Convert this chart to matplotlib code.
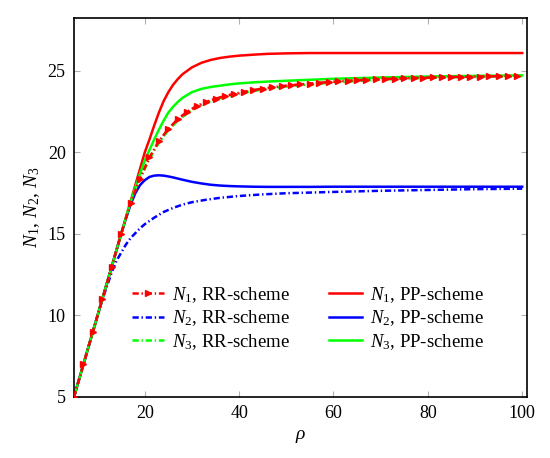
import numpy as np
import matplotlib
matplotlib.use('Agg')
import matplotlib.pyplot as plt

plt.rcParams['font.family'] = ['Liberation Serif', 'DejaVu Serif']
plt.rcParams['mathtext.fontset'] = 'custom'
plt.rcParams['mathtext.rm'] = 'Liberation Serif'
plt.rcParams['mathtext.it'] = 'Liberation Serif:italic'
plt.rcParams['lines.scale_dashes'] = False

# RR-scheme, N1 (marked points)
rho_rr = list(range(5, 101, 2))
n1_rr = [5, 7, 9, 11, 13, 15, 16.9, 18.4, 19.7, 20.7, 21.45, 22.05, 22.5, 22.85,
         23.1, 23.3, 23.47, 23.6, 23.72, 23.83, 23.92, 24.0, 24.07, 24.13, 24.18,
         24.23, 24.28, 24.32, 24.36, 24.4, 24.43, 24.46, 24.49, 24.51, 24.53, 24.55,
         24.57, 24.59, 24.6, 24.62, 24.63, 24.64, 24.65, 24.66, 24.67, 24.68, 24.69, 24.7]

# RR-scheme, N2
rho_n2_rr = [5, 10, 11, 12, 13, 14, 15, 16, 17, 18, 19, 20, 22, 24, 26, 28, 30, 33, 36,
             40, 45, 50, 60, 70, 80, 90, 100]
n2_rr = [5, 10, 10.95, 11.8, 12.65, 13.35, 13.85, 14.35, 14.75, 15.05, 15.35, 15.6, 16.0,
         16.35, 16.6, 16.8, 16.95, 17.1, 17.22, 17.33, 17.43, 17.5, 17.58, 17.65, 17.7,
         17.75, 17.78]

# RR-scheme, N3
rho_n3_rr = [5, 15, 16, 17, 18, 19, 20, 21, 22, 23, 24, 25, 27, 29, 31, 33, 35, 38, 41,
             45, 50, 60, 70, 80, 90, 100]
n3_rr = [5, 15, 15.95, 16.85, 17.65, 18.35, 19.0, 19.6, 20.1, 20.6, 21.0, 21.35, 21.95,
         22.4, 22.78, 23.05, 23.25, 23.48, 23.67, 23.87, 24.05, 24.3, 24.47, 24.58,
         24.64, 24.68]

# PP-scheme
rho_pp = [5, 10, 15, 16, 17, 18, 19, 20, 21, 22, 23, 24, 25, 26, 27, 28, 30, 32, 34, 36,
          38, 40, 43, 46, 50, 55, 60, 70, 80, 90, 100]
n1_pp = [5, 10, 15, 16, 17, 18, 19, 20, 20.8, 21.65, 22.45, 23.15, 23.7, 24.15, 24.5,
         24.8, 25.22, 25.5, 25.68, 25.8, 25.88, 25.94, 26.0, 26.05, 26.08, 26.1, 26.1,
         26.1, 26.1, 26.1, 26.1]
n2_pp = [5, 10, 15, 15.95, 16.8, 17.5, 18.0, 18.3, 18.5, 18.58, 18.6, 18.58, 18.53,
         18.47, 18.4, 18.33, 18.2, 18.1, 18.02, 17.97, 17.94, 17.92, 17.9, 17.89, 17.89,
         17.89, 17.9, 17.9, 17.9, 17.9, 17.9]
n3_pp = [5, 10, 15, 16, 16.95, 17.85, 18.7, 19.5, 20.15, 20.8, 21.4, 21.95, 22.45, 22.8,
         23.1, 23.35, 23.7, 23.9, 24.02, 24.1, 24.18, 24.24, 24.3, 24.35, 24.4, 24.46,
         24.52, 24.6, 24.66, 24.7, 24.73]

red = '#ff0000'
blue = '#0000ff'
green = '#00ff00'
dashdot = (0, (4.5, 2.0, 1.0, 2.0))
lw = 1.8

fig = plt.figure(figsize=(5.5, 4.58), dpi=100)
ax = fig.add_axes([0.1345, 0.1332, 0.8235, 0.8275])

ax.plot(rho_rr, n1_rr, color=red, ls=dashdot, lw=lw, marker='>', markersize=4.5,
        label=r'$N_1$, RR-scheme', zorder=5)
ax.plot(rho_n2_rr, n2_rr, color=blue, ls=dashdot, lw=lw, label=r'$N_2$, RR-scheme')
ax.plot(rho_n3_rr, n3_rr, color=green, ls=dashdot, lw=lw, label=r'$N_3$, RR-scheme')
ax.plot(rho_pp, n1_pp, color=red, lw=lw, label=r'$N_1$, PP-scheme')
ax.plot(rho_pp, n2_pp, color=blue, lw=lw, label=r'$N_2$, PP-scheme')
ax.plot(rho_pp, n3_pp, color=green, lw=lw, label=r'$N_3$, PP-scheme')

ax.set_xlim(5, 101)
ax.set_ylim(5, 28.25)
ax.set_xticks([20, 40, 60, 80, 100])
ax.set_yticks([5, 10, 15, 20, 25])
ax.tick_params(direction='in', length=4, width=0.8, color='#b0b0b0',
               top=True, right=True, labelsize=13, pad=6)
for s in ax.spines.values():
    s.set_linewidth(1.2)

ax.set_xlabel(r'$\rho$', fontsize=14)
ax.set_ylabel(r'$N_1$, $N_2$, $N_3$', fontsize=14, labelpad=4)

ax.legend(loc='upper left', bbox_to_anchor=(0.09, 0.34), ncol=2, frameon=False,
          fontsize=13.5, numpoints=1, handlelength=1.75, handletextpad=0.4,
          columnspacing=2.1, labelspacing=0.2)

fig.savefig('out.png', dpi=100)
